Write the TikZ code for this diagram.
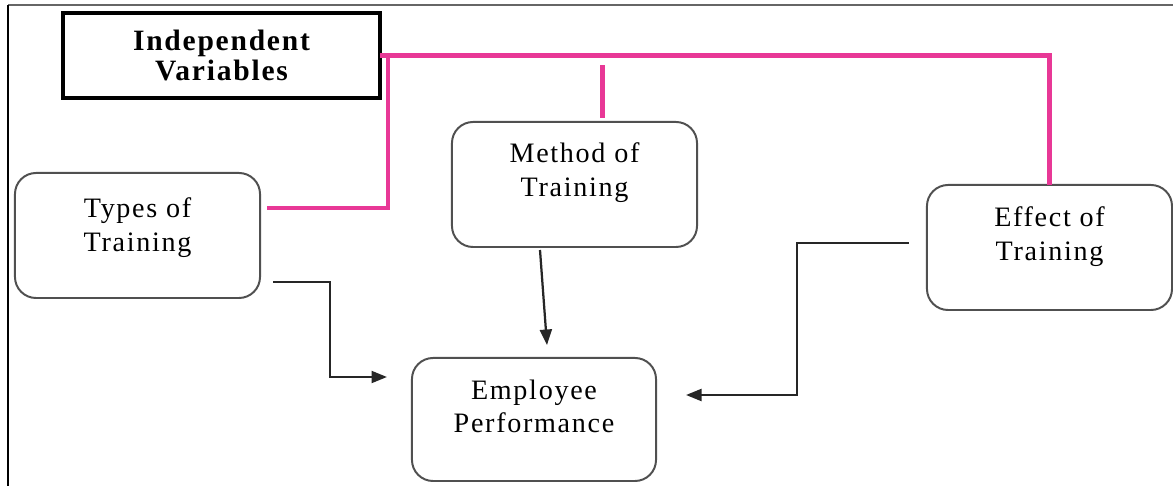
\documentclass[tikz,border=0pt]{standalone}
\usepackage{fontspec}
\setmainfont{Liberation Serif}[LetterSpace=6]
\usetikzlibrary{positioning,calc,arrows.meta}
\definecolor{linkpink}{RGB}{232,56,150}
\definecolor{boxgray}{RGB}{80,80,80}
\tikzset{
  box/.style = {draw=boxgray, line width=1.4pt, rounded corners=15pt,
                minimum width=6.125cm, minimum height=3.125cm,
                inner sep=0pt, outer sep=0pt},
  boxtext/.style = {align=center, inner sep=0pt,
                    font=\fontsize{20}{24}\selectfont},
  ivbox/.style = {draw=black, line width=2.4pt,
                  minimum width=7.925cm, minimum height=2.125cm,
                  align=center, inner sep=0pt, outer sep=0pt,
                  font=\bfseries\fontsize{21}{22}\selectfont},
  pinkline/.style = {draw=linkpink, line width=3.3pt},
  arrowline/.style = {draw=black!85, line width=1.6pt,
                      -{Triangle[length=11pt,width=8.5pt]}}
}

\begin{document}
\begin{tikzpicture}[x=0.025cm, y=0.025cm]
	\useasboundingbox (0,0) rectangle (1173,486);

	% Frame
	\draw[black!60, line width=1.4pt] (8,481) -- (1173,481);
	\draw[black, line width=1.2pt] (8,481) -- (8,0);

	% Boxes
	\node[ivbox] (indep) at (221.5,430.5) {Independent\\Variables};
	\node[box] (types)  at (137.5,250.5) {};
	\node[box] (method) at (574.5,301.5) {};
	\node[box] (effect) at (1049.5,238.5) {};
	\node[box, minimum width=6.1cm, minimum height=3.075cm] (emp) at (534,66.5) {};

	% Box texts
	\node[boxtext] (types-txt)  at ($(types.center)+(0,8)$)   {Types of\\Training};
	\node[boxtext] (method-txt) at ($(method.center)+(0,12)$) {Method of\\Training};
	\node[boxtext] (effect-txt) at ($(effect.center)+(0,11)$) {Effect of\\Training};
	\node[boxtext] (emp-txt)    at ($(emp.center)+(0,13)$)    {Employee\\Performance};

	% Pink links
	\draw[pinkline] (indep.east) -| (effect.north);
	\draw[pinkline] ($(indep.east)+(8,-1)$) |- ($(types.east)+(7,27.5)$);
	\draw[pinkline] ($(method.north)+(28,4)$) -- ++(0,53);

	% Arrows to performance
	\draw[arrowline] ($(types.east)+(13,-46.5)$) -- ++(57,0) |- ($(emp.west)+(-25,42.5)$);
	\draw[arrowline] ($(method.south)+(-34.5,-3)$) -- ($(emp.north)+(13,13)$);
	\draw[arrowline] ($(effect.west)+(-18,4.5)$) -- ++(-112,0) |- ($(emp.east)+(30,24.5)$);

\end{tikzpicture}
\end{document}
